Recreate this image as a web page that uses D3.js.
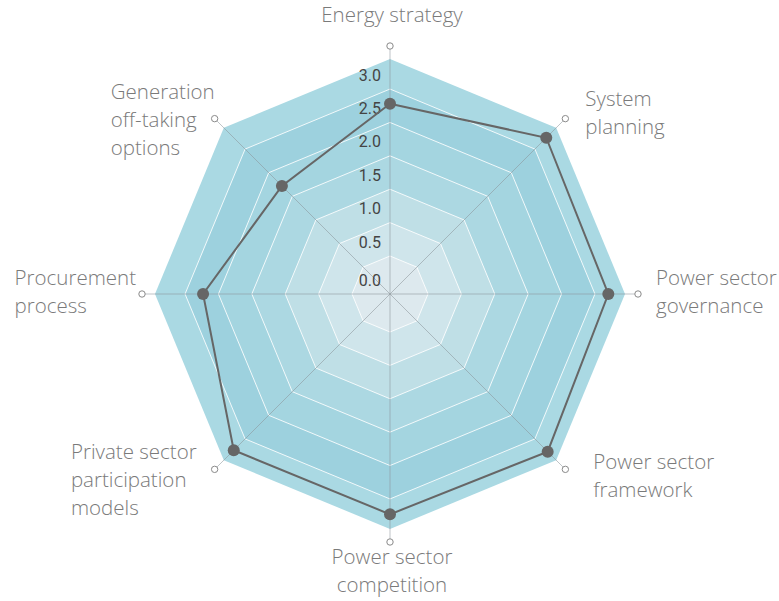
<!DOCTYPE html>
<html>
<head>
<meta charset="utf-8">
<script src="https://cdn.jsdelivr.net/npm/d3@7"></script>
<style>
  body { margin: 0; background: #fff; }
</style>
</head>
<body>
<div id="chart"></div>
<script>
// axis names, clockwise from the top ("\n" = line break in the label)
const categories = [
  "Energy strategy",
  "System\nplanning",
  "Power sector\ngovernance",
  "Power sector\nframework",
  "Power sector\ncompetition",
  "Private sector\nparticipation\nmodels",
  "Procurement\nprocess",
  "Generation\noff-taking\noptions"
];
// score on each axis
const scores = [2.78, 3.24, 3.20, 3.27, 3.23, 3.24, 2.73, 2.22];
// labelled rings
const tickValues = [0, 0.5, 1.0, 1.5, 2.0, 2.5, 3.0];
const scaleMax = 3.45;

// fills from the centre band outwards
const bandColors = ["#dde9ee", "#cfe5eb", "#bfdfe6", "#acd8e2", "#a4d5e0", "#9dd1de", "#aad9e3"];
// label placement: anchor, horizontal gap from marker, vertical shift of the text block
const labelLayout = [
  ["middle", 2, -31],
  ["start", 20, -6],
  ["start", 18, -2],
  ["start", 28, 6],
  ["middle", 2, 29],
  ["end", 18, 10],
  ["end", 6, -2],
  ["end", 0, 1]
];

const width = 779, height = 601;
const cx = 390, cy = 294;
const markerR = 248;
const fontLabel = "'Open Sans', 'Noto Sans', sans-serif";

const svg = d3.select("#chart").append("svg")
    .attr("width", width)
    .attr("height", height);

const g = svg.append("g").attr("transform", `translate(${cx},${cy})`);

const r = d3.scaleLinear().domain([0, 0.5, scaleMax]).range([0, 38, 235]);
const step = 2 * Math.PI / categories.length;
const ang = i => i * step;

// ring polygon through all axes at one value
const ring = d3.lineRadial()
    .angle((d, i) => ang(i))
    .radius(d => r(d))
    .curve(d3.curveLinearClosed);

// bands, drawn from outside in
const levels = [scaleMax].concat(tickValues.slice(1).reverse());
levels.forEach((lv, k) => {
    g.append("path")
        .attr("d", ring(categories.map(() => lv)))
        .attr("fill", bandColors[bandColors.length - 1 - k]);
});

// white grid rings
tickValues.slice(1).forEach(lv => {
    g.append("path")
        .attr("d", ring(categories.map(() => lv)))
        .attr("fill", "none")
        .attr("stroke", "#fff")
        .attr("stroke-opacity", 0.85)
        .attr("stroke-width", 1);
});

// spokes and end markers
const spokes = g.selectAll(".spoke").data(categories).enter().append("g");
spokes.append("line")
    .attr("x1", 0).attr("y1", 0)
    .attr("x2", (d, i) => markerR * Math.sin(ang(i)))
    .attr("y2", (d, i) => -markerR * Math.cos(ang(i)))
    .attr("stroke", "#8a9499")
    .attr("stroke-opacity", 0.55)
    .attr("stroke-width", 1);
spokes.append("circle")
    .attr("cx", (d, i) => markerR * Math.sin(ang(i)))
    .attr("cy", (d, i) => -markerR * Math.cos(ang(i)))
    .attr("r", 3.2)
    .attr("fill", "#fff")
    .attr("stroke", "#8a8a8a")
    .attr("stroke-width", 1);

// tick labels along the top spoke
g.selectAll(".tick").data(tickValues).enter().append("text")
    .attr("x", -9)
    .attr("y", d => -r(d) - 8.5)
    .attr("text-anchor", "end")
    .attr("font-family", "Roboto, sans-serif")
    .attr("font-size", 16)
    .attr("fill", "#444")
    .text(d => d.toFixed(1));

// score polygon
g.append("path")
    .attr("d", ring(scores))
    .attr("fill", "none")
    .attr("stroke", "#666")
    .attr("stroke-width", 2);

g.selectAll(".dot").data(scores).enter().append("circle")
    .attr("cx", (d, i) => r(d) * Math.sin(ang(i)))
    .attr("cy", (d, i) => -r(d) * Math.cos(ang(i)))
    .attr("r", 6)
    .attr("fill", "#666");

// category labels
const lineH = 28;
categories.forEach((name, i) => {
    const lines = name.split("\n");
    const [anchor, gap, shift] = labelLayout[i];
    const mx = markerR * Math.sin(ang(i));
    const my = -markerR * Math.cos(ang(i));
    const midY = my + shift;
    const t = g.append("text")
        .attr("font-family", fontLabel)
        .attr("font-weight", 300)
        .attr("font-size", 20.5)
        .attr("fill", "#7a7a7a");
    lines.forEach((ln, j) => {
        t.append("tspan")
            .attr("y", midY + (j - (lines.length - 1) / 2) * lineH)
            .attr("dy", "0.36em")
            .text(ln);
    });
    let x;
    if (anchor === "middle") {
        t.attr("text-anchor", "middle");
        x = mx + gap;
    } else if (anchor === "start") {
        t.attr("text-anchor", "start");
        x = mx + gap;
    } else {
        // left side: block is left-aligned, its right edge sits near the marker
        t.attr("text-anchor", "start");
        const w = d3.max(t.selectAll("tspan").nodes(), n => n.getComputedTextLength());
        x = mx - gap - w;
    }
    t.selectAll("tspan").attr("x", x);
});
</script>
</body>
</html>
